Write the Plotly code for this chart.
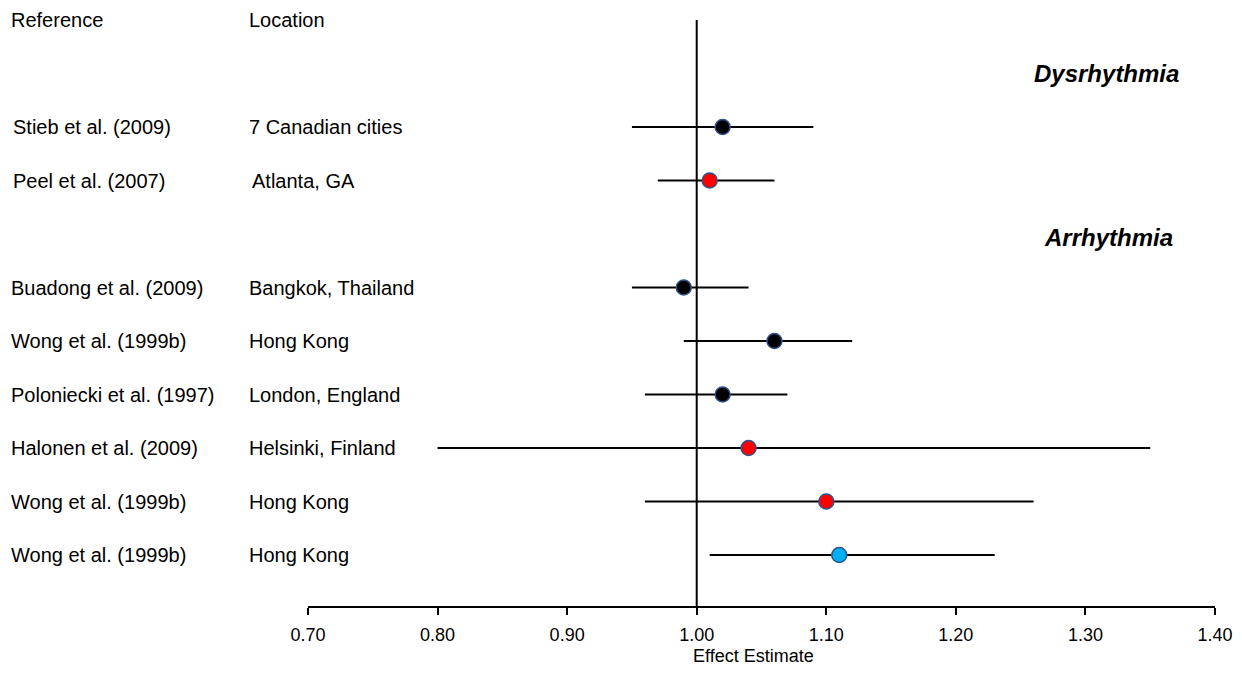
import plotly.graph_objects as go

# ---- data ----
references = ["Stieb et al. (2009)", "Peel et al. (2007)", "Buadong et al. (2009)",
              "Wong et al. (1999b)", "Poloniecki et al. (1997)", "Halonen et al. (2009)",
              "Wong et al. (1999b)", "Wong et al. (1999b)"]
locations = ["7 Canadian cities", "Atlanta, GA", "Bangkok, Thailand", "Hong Kong",
             "London, England", "Helsinki, Finland", "Hong Kong", "Hong Kong"]
estimates = [1.02, 1.01, 0.99, 1.06, 1.02, 1.04, 1.10, 1.11]
lower = [0.95, 0.97, 0.95, 0.99, 0.96, 0.80, 0.96, 1.01]
upper = [1.09, 1.06, 1.04, 1.12, 1.07, 1.35, 1.26, 1.23]
rows = [2, 3, 5, 6, 7, 8, 9, 10]
marker_colors = ["#000000", "#FF0000", "#000000", "#000000", "#000000",
                 "#FF0000", "#FF0000", "#00B0F0"]
sections = ["Dysrhythmia", "Arrhythmia"]
section_rows = [1.0, 4.07]
headers = ["Reference", "Location"]
tick_vals = [0.70, 0.80, 0.90, 1.00, 1.10, 1.20, 1.30, 1.40]
tick_text = ["0.70", "0.80", "0.90", "1.00", "1.10", "1.20", "1.30", "1.40"]
axis_title = "Effect Estimate"

FONT = "Liberation Sans, Arial, sans-serif"
W, H = 1242, 673
OFF = 8  # page body margin
ML, MT = 308 - OFF, 20 - OFF
plot_w = 907
MR = W - ML - plot_w
MB = H - (606 - OFF)
plot_h = H - MT - MB
PAD = 3


def px_to_paper(px):
    return (px - OFF - ML) / plot_w


fig = go.Figure()
fig.add_trace(go.Scatter(
    x=estimates, y=rows, mode="markers",
    marker=dict(size=15, color=marker_colors, line=dict(color="#2F528F", width=1.5)),
    error_x=dict(type="data", symmetric=False,
                 array=[u - e for u, e in zip(upper, estimates)],
                 arrayminus=[e - l for e, l in zip(estimates, lower)],
                 color="#000000", thickness=2, width=0),
    showlegend=False, hoverinfo="skip",
))

annotations = []
ref_x = [14, 14, 12, 12, 12, 12, 12, 12]
loc_x = [250, 253, 250, 250, 250, 250, 250, 250]
for r, ref, loc, rx, lx in zip(rows, references, locations, ref_x, loc_x):
    annotations.append(dict(x=px_to_paper(rx - PAD), xref="paper", y=r, yref="y", text=ref,
                            showarrow=False, xanchor="left", yanchor="middle",
                            font=dict(family=FONT, size=20, color="#000")))
    annotations.append(dict(x=px_to_paper(lx - PAD), xref="paper", y=r, yref="y", text=loc,
                            showarrow=False, xanchor="left", yanchor="middle",
                            font=dict(family=FONT, size=20, color="#000")))
for hx, h in zip([12, 250], headers):
    annotations.append(dict(x=px_to_paper(hx - PAD), xref="paper", y=0, yref="y", text=h,
                            showarrow=False, xanchor="left", yanchor="middle",
                            font=dict(family=FONT, size=20, color="#000")))
for s, sr, sx in zip(sections, section_rows, [1178, 1172]):
    annotations.append(dict(x=px_to_paper(sx + PAD), xref="paper", y=sr, yref="y",
                            text="<b><i>%s</i></b>" % s,
                            showarrow=False, xanchor="right", yanchor="middle",
                            font=dict(family=FONT, size=24, color="#000")))
annotations.append(dict(x=px_to_paper(753), xref="paper", y=-(656 - 606) / plot_h,
                        yref="paper", text=axis_title, showarrow=False,
                        xanchor="center", yanchor="middle",
                        font=dict(family=FONT, size=18, color="#000")))

fig.add_shape(type="line", x0=1.0, x1=1.0, xref="x", y0=0, y1=1, yref="paper",
              line=dict(color="#000000", width=2))

fig.update_layout(
    width=W, height=H, autosize=False,
    margin=dict(l=ML, r=MR, t=MT, b=MB, pad=0),
    paper_bgcolor="white", plot_bgcolor="white",
    font=dict(family=FONT, color="#000"),
    xaxis=dict(range=[0.70, 1.40], tickvals=tick_vals, ticktext=tick_text,
               showgrid=False, zeroline=False, showline=True, linecolor="#000",
               linewidth=1.5, ticks="outside", ticklen=7, tickwidth=1.5, tickcolor="#000",
               ticklabelstandoff=5,
               tickfont=dict(family=FONT, size=18, color="#000")),
    yaxis=dict(range=[plot_h / 53.5, 0], visible=False, showgrid=False,
               zeroline=False),
    annotations=annotations,
)

fig.write_html("out.html")
